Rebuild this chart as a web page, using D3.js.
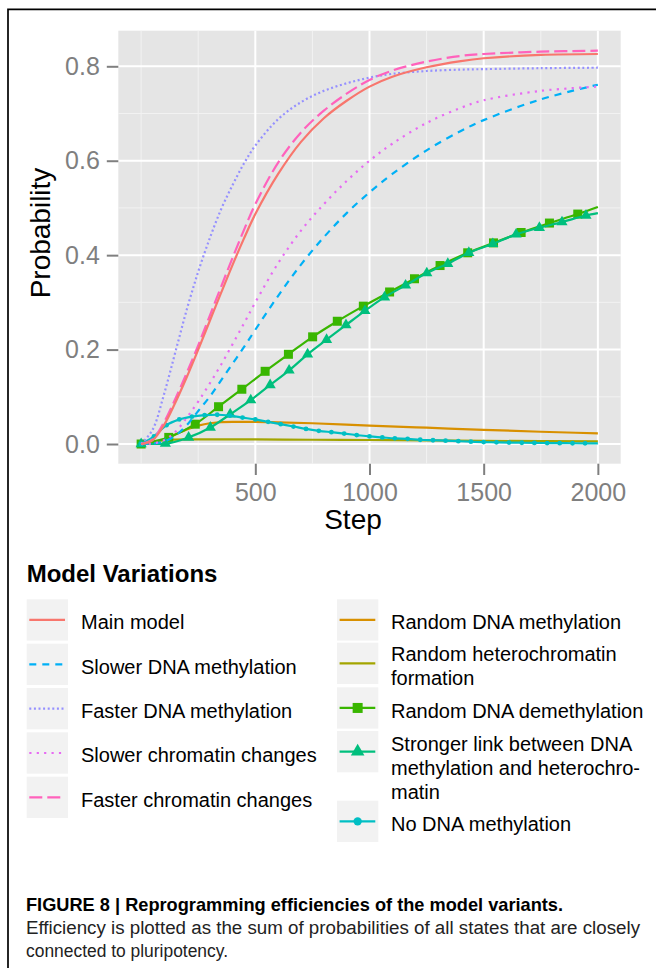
<!DOCTYPE html>
<html>
<head>
<meta charset="utf-8">
<script src="https://cdn.jsdelivr.net/npm/d3@7"></script>
<style>
  body { margin: 0; background: #fff; }
  svg { display: block; font-family: "Liberation Sans", Arial, Helvetica, sans-serif; }
</style>
</head>
<body>
<div id="chart"></div>
<script>
/* DATA */
const xTicks = [500, 1000, 1500, 2000];
const yTicks = [0, 0.2, 0.4, 0.6, 0.8];
const xMinor = [0, 250, 750, 1250, 1750];
const yMinor = [0.1, 0.3, 0.5, 0.7];

// smooth curves
const lineSteps = [0, 50, 100, 150, 200, 250, 300, 350, 400, 450, 500, 600, 700, 800, 900, 1000, 1100, 1250, 1400, 1500, 1750, 2000];
const mainModel = [0, 0.008, 0.04, 0.088, 0.142, 0.2, 0.26, 0.32, 0.379, 0.435, 0.487, 0.572, 0.64, 0.69, 0.727, 0.757, 0.778, 0.798, 0.811, 0.817, 0.824, 0.826];
const slowerDNA = [0, 0.001, 0.005, 0.018, 0.04, 0.07, 0.1, 0.135, 0.17, 0.205, 0.242, 0.314, 0.38, 0.438, 0.489, 0.533, 0.572, 0.622, 0.663, 0.686, 0.73, 0.761];
const fasterDNA = [0, 0.03, 0.105, 0.195, 0.285, 0.365, 0.435, 0.497, 0.548, 0.594, 0.632, 0.688, 0.724, 0.748, 0.764, 0.776, 0.784, 0.79, 0.793, 0.794, 0.796, 0.797];
const slowerChrom = [0, 0.001, 0.008, 0.026, 0.056, 0.09, 0.128, 0.168, 0.211, 0.255, 0.3, 0.383, 0.452, 0.508, 0.557, 0.6, 0.636, 0.68, 0.712, 0.728, 0.748, 0.757];
const fasterChrom = [0, 0.01, 0.046, 0.096, 0.151, 0.209, 0.271, 0.333, 0.394, 0.453, 0.508, 0.596, 0.66, 0.706, 0.742, 0.771, 0.791, 0.81, 0.822, 0.826, 0.831, 0.833];

const randMethSteps = [0, 50, 100, 150, 200, 250, 300, 400, 500, 600, 750, 1000, 1250, 1500, 1750, 2000];
const randMeth = [0, 0.003, 0.01, 0.02, 0.031, 0.039, 0.044, 0.047, 0.047, 0.046, 0.044, 0.039, 0.0345, 0.03, 0.026, 0.0225];

const randHetSteps = [0, 50, 100, 150, 200, 300, 500, 750, 1000, 1250, 1500, 1750, 2000];
const randHet = [0, 0.004, 0.008, 0.0095, 0.01, 0.01, 0.0097, 0.009, 0.0085, 0.0076, 0.0068, 0.006, 0.0055];

// series with markers (last point is the line end, no marker)
const demethSteps = [0, 121, 237, 339, 441, 543, 645, 751, 859, 973, 1088, 1197, 1309, 1430, 1543, 1664, 1788, 1912, 2000];
const demeth = [0, 0.014, 0.042, 0.079, 0.116, 0.154, 0.19, 0.227, 0.26, 0.292, 0.322, 0.35, 0.378, 0.405, 0.426, 0.448, 0.468, 0.487, 0.502];

const strongSteps = [0, 106, 208, 303, 390, 480, 565, 648, 729, 812, 897, 980, 1066, 1158, 1251, 1343, 1435, 1540, 1642, 1744, 1843, 1948, 2000];
const strong = [0, 0.001, 0.014, 0.035, 0.063, 0.093, 0.125, 0.156, 0.19, 0.221, 0.252, 0.282, 0.311, 0.336, 0.362, 0.382, 0.405, 0.424, 0.444, 0.458, 0.47, 0.484, 0.489];

const noMethSteps = [0, 56, 111, 167, 222, 278, 333, 389, 444, 500, 556, 611, 667, 722, 778, 833, 889, 944, 1000, 1056, 1111, 1167, 1222, 1278, 1333, 1389, 1444, 1500, 1556, 1611, 1667, 1722, 1778, 1833, 1889, 1944, 2000];
const noMeth = [0, 0.016, 0.04, 0.052, 0.058, 0.061, 0.062, 0.06, 0.056, 0.052, 0.047, 0.042, 0.037, 0.032, 0.028, 0.025, 0.022, 0.019, 0.016, 0.014, 0.012, 0.011, 0.009, 0.008, 0.007, 0.006, 0.005, 0.004, 0.0035, 0.003, 0.0027, 0.0024, 0.002, 0.0018, 0.0016, 0.0014, 0.0012];

const captionTitle = 'FIGURE 8 | Reprogramming efficiencies of the model variants.';
const captionText = ['Efficiency is plotted as the sum of probabilities of all states that are closely', 'connected to pluripotency.'];

/* SERIES + STYLES */
const series = {
  main: { label: ['Main model'], steps: lineSteps, vals: mainModel, color: '#F8766D', smooth: true },
  slowerDNA: { label: ['Slower DNA methylation'], steps: lineSteps, vals: slowerDNA, color: '#00B0F6', dash: '7,6', smooth: true },
  fasterDNA: { label: ['Faster DNA methylation'], steps: lineSteps, vals: fasterDNA, color: '#9590FF', dash: '2,2.6', smooth: true },
  slowerChrom: { label: ['Slower chromatin changes'], steps: lineSteps, vals: slowerChrom, color: '#E76BF3', dash: '2.2,5.2', smooth: true },
  fasterChrom: { label: ['Faster chromatin changes'], steps: lineSteps, vals: fasterChrom, color: '#FF62BC', dash: '13,5', smooth: true },
  randMeth: { label: ['Random DNA methylation'], steps: randMethSteps, vals: randMeth, color: '#D89000' },
  randHet: { label: ['Random heterochromatin', 'formation'], steps: randHetSteps, vals: randHet, color: '#A3A500' },
  demeth: { label: ['Random DNA demethylation'], steps: demethSteps, vals: demeth, color: '#39B600', shape: 'square' },
  strong: { label: ['Stronger link between DNA', 'methylation and heterochro-', 'matin'], steps: strongSteps, vals: strong, color: '#00BF7D', shape: 'triangle' },
  noMeth: { label: ['No DNA methylation'], steps: noMethSteps, vals: noMeth, color: '#00BFC4', shape: 'circle' }
};
const drawOrder = ['randHet', 'randMeth', 'demeth', 'strong', 'noMeth', 'slowerDNA', 'slowerChrom', 'fasterDNA', 'fasterChrom', 'main'];
const legendLeft = ['main', 'slowerDNA', 'fasterDNA', 'slowerChrom', 'fasterChrom'];
const legendRight = ['randMeth', 'randHet', 'demeth', 'strong', 'noMeth'];

const W = 656, H = 968;
const panel = { left: 118.3, right: 620.7, top: 30.7, bottom: 463.7 };

const svg = d3.select('#chart').append('svg')
  .attr('width', W).attr('height', H).attr('viewBox', `0 0 ${W} ${H}`);

// figure frame (open on right and bottom)
svg.append('path')
  .attr('d', `M8,${H} V9.3 H${W}`)
  .attr('fill', 'none').attr('stroke', '#000').attr('stroke-width', 1.7);

/* SCALES */
const x = d3.scaleLinear().domain([-100, 2100]).range([panel.left, panel.right]);
const y = d3.scaleLinear().domain([-0.0417, 0.8754]).range([panel.bottom, panel.top]);

// panel background
svg.append('rect')
  .attr('x', panel.left).attr('y', panel.top)
  .attr('width', panel.right - panel.left).attr('height', panel.bottom - panel.top)
  .attr('fill', '#e5e5e5');

// grid
const grid = svg.append('g');
grid.selectAll('.vmin').data(xMinor).join('line')
  .attr('x1', d => x(d)).attr('x2', d => x(d)).attr('y1', panel.top).attr('y2', panel.bottom)
  .attr('stroke', '#f2f2f2').attr('stroke-width', 1);
grid.selectAll('.hmin').data(yMinor).join('line')
  .attr('y1', d => y(d)).attr('y2', d => y(d)).attr('x1', panel.left).attr('x2', panel.right)
  .attr('stroke', '#f2f2f2').attr('stroke-width', 1);
grid.selectAll('.vmaj').data(xTicks).join('line')
  .attr('x1', d => x(d)).attr('x2', d => x(d)).attr('y1', panel.top).attr('y2', panel.bottom)
  .attr('stroke', '#fff').attr('stroke-width', 2);
grid.selectAll('.hmaj').data(yTicks).join('line')
  .attr('y1', d => y(d)).attr('y2', d => y(d)).attr('x1', panel.left).attr('x2', panel.right)
  .attr('stroke', '#fff').attr('stroke-width', 2);

/* AXES */
const xAxis = svg.append('g')
  .attr('transform', `translate(0, ${panel.bottom})`)
  .call(d3.axisBottom(x).tickValues(xTicks).tickSize(11.3).tickPadding(8).tickFormat(d3.format('d')));
const yAxis = svg.append('g')
  .attr('transform', `translate(${panel.left}, 0)`)
  .call(d3.axisLeft(y).tickValues(yTicks).tickSize(11.5).tickPadding(7).tickFormat(d3.format('.1f')));
[xAxis, yAxis].forEach(a => {
  a.select('.domain').remove();
  a.selectAll('line').attr('stroke', '#7f7f7f').attr('stroke-width', 2);
  a.selectAll('text').attr('fill', '#7f7f7f').style('font-size', '25px')
    .style('font-family', '"Liberation Sans", Arial, sans-serif');
});

svg.append('text')
  .attr('x', 353).attr('y', 529)
  .attr('text-anchor', 'middle')
  .style('font-size', '28px')
  .text('Step');
svg.append('text')
  .attr('transform', 'translate(50, 233) rotate(-90)')
  .attr('text-anchor', 'middle')
  .style('font-size', '28px')
  .text('Probability');

/* LINES */
const lineSmooth = d3.line()
  .x(d => x(d[0]))
  .y(d => y(d[1]))
  .curve(d3.curveCatmullRom.alpha(0.5));
const lineMono = d3.line()
  .x(d => x(d[0]))
  .y(d => y(d[1]))
  .curve(d3.curveMonotoneX);

const plot = svg.append('g');
drawOrder.forEach(key => {
  const s = series[key];
  const pts = s.steps.map((st, i) => [st, s.vals[i]]);
  plot.append('path')
    .datum(pts)
    .attr('d', s.smooth ? lineSmooth : lineMono)
    .attr('fill', 'none')
    .attr('stroke', s.color)
    .attr('stroke-width', 2.2)
    .attr('stroke-dasharray', s.dash || null);
  if (s.shape) {
    const marks = pts.slice(0, -1);
    drawMarkers(plot, marks.map(d => [x(d[0]), y(d[1])]), s.shape, s.color, false);
  }
});

function drawMarkers(g, xy, shape, color, big) {
  if (shape === 'square') {
    const sz = big ? 10 : 9;
    g.selectAll(null).data(xy).join('rect')
      .attr('x', d => d[0] - sz / 2).attr('y', d => d[1] - sz / 2)
      .attr('width', sz).attr('height', sz).attr('fill', color);
  } else if (shape === 'triangle') {
    const sym = d3.symbol(d3.symbolTriangle).size(big ? 80 : 54);
    g.selectAll(null).data(xy).join('path')
      .attr('transform', d => `translate(${d[0]}, ${d[1]})`)
      .attr('d', sym).attr('fill', color);
  } else {
    g.selectAll(null).data(xy).join('circle')
      .attr('cx', d => d[0]).attr('cy', d => d[1])
      .attr('r', big ? 4.2 : 2.4).attr('fill', color);
  }
}

/* LEGEND */
const legend = svg.append('g');
legend.append('text')
  .attr('x', 26.7).attr('y', 581.7)
  .style('font-size', '24px').style('font-weight', 'bold')
  .text('Model Variations');

const keyH = 41.3, keyW = 41.3;
const leftTops = legendLeft.map((d, i) => 599.3 + i * 44.35);
const rightTops = [599.3, 642.7, 687.3, 731, 800.7];
const rightBase = [[629.3], [661, 685], [717.5], [751, 775, 799], [830.5]];

function legendItem(key, bx, top, lx, baselines) {
  const s = series[key];
  const cy = top + keyH / 2;
  legend.append('rect')
    .attr('x', bx).attr('y', top).attr('width', keyW).attr('height', keyH)
    .attr('fill', '#f2f2f2');
  legend.append('line')
    .attr('x1', bx + 2.6).attr('x2', bx + 38.3).attr('y1', cy).attr('y2', cy)
    .attr('stroke', s.color).attr('stroke-width', 2.2)
    .attr('stroke-dasharray', s.dash || null);
  if (s.shape) drawMarkers(legend.append('g'), [[bx + keyW / 2, cy]], s.shape, s.color, true);
  s.label.forEach((t, i) => {
    legend.append('text')
      .attr('x', lx).attr('y', baselines[i])
      .style('font-size', '20px')
      .text(t);
  });
}
legendLeft.forEach((k, i) => legendItem(k, 26.7, leftTops[i], 81, [leftTops[i] + 30]));
legendRight.forEach((k, i) => legendItem(k, 337, rightTops[i], 391, rightBase[i]));

/* CAPTION */
svg.append('text')
  .attr('x', 26).attr('y', 911)
  .attr('textLength', 537).attr('lengthAdjust', 'spacingAndGlyphs')
  .style('font-size', '18.5px').style('font-weight', 'bold')
  .text(captionTitle);
const capLens = [614, 202];
captionText.forEach((t, i) => {
  svg.append('text')
    .attr('x', 26).attr('y', 934 + i * 23)
    .attr('textLength', capLens[i]).attr('lengthAdjust', 'spacingAndGlyphs')
    .style('font-size', '18px').attr('fill', '#222')
    .text(t);
});
</script>
</body>
</html>
